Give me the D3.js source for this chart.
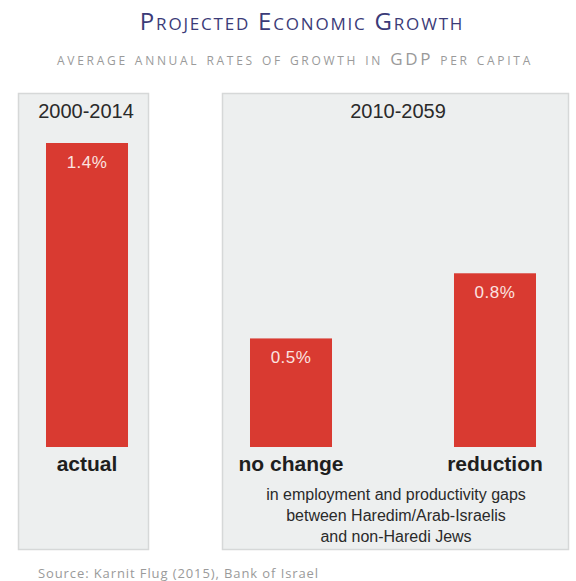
<!DOCTYPE html>
<html><head><meta charset="utf-8">
<script src="https://cdn.jsdelivr.net/npm/d3@7"></script>
<style>body{margin:0;background:#fff}svg{display:block}</style>
</head><body>
<script>
const categories = ["actual", "no change", "reduction"];
const values = [1.4, 0.5, 0.8];
const valueLabels = ["1.4%", "0.5%", "0.8%"];
const periods = ["2000-2014", "2010-2059"];
const captionLines = ["in employment and productivity gaps", "between Haredim/Arab-Israelis", "and non-Haredi Jews"];
const title = "Projected Economic Growth";
const subtitle = "average annual rates of growth in GDP per capita";
const source = "Source: Karnit Flug (2015), Bank of Israel";

const W = 576, H = 581;
const svg = d3.select("body").append("svg").attr("width", W).attr("height", H);

// panels
const panels = [{x0: 18, x1: 148, label: periods[0]}, {x0: 222, x1: 568, label: periods[1]}];
const panelTop = 93, panelBottom = 549;
svg.selectAll("rect.panel").data(panels).enter().append("rect")
  .attr("x", d => d.x0 + 0.5).attr("y", panelTop + 0.5)
  .attr("width", d => d.x1 - d.x0).attr("height", panelBottom - panelTop)
  .attr("fill", "#edefef").attr("stroke", "#d6d8d8").attr("stroke-width", 1.5);
svg.selectAll("text.phead").data(panels).enter().append("text")
  .attr("x", d => (d.x0 + d.x1) / 2 + 3).attr("y", 118)
  .attr("text-anchor", "middle").attr("font-family", "Liberation Sans, Arial, sans-serif")
  .attr("font-size", 20).attr("fill", "#2a2a2a").text(d => d.label);

const x = d3.scaleBand().domain(categories).range([46, 536]).paddingInner(0.598).paddingOuter(0);
const y = d3.scaleLinear().domain([0, 1.4]).range([447, 143]);

svg.selectAll("rect.bar").data(categories).enter().append("rect")
  .attr("x", d => x(d)).attr("width", x.bandwidth())
  .attr("y", (d, i) => y(values[i])).attr("height", (d, i) => y(0) - y(values[i]))
  .attr("fill", "#d93a31");

svg.selectAll("text.val").data(categories).enter().append("text")
  .attr("x", d => x(d) + x.bandwidth() / 2).attr("y", (d, i) => y(values[i]) + 25)
  .attr("text-anchor", "middle").attr("font-family", "Liberation Sans, Arial, sans-serif")
  .attr("font-size", 17).attr("letter-spacing", 0.5).attr("fill", "#fbe3e0").text((d, i) => valueLabels[i]);

svg.selectAll("text.cat").data(categories).enter().append("text")
  .attr("x", d => x(d) + x.bandwidth() / 2).attr("y", 471)
  .attr("text-anchor", "middle").attr("font-family", "Liberation Sans, Arial, sans-serif")
  .attr("font-weight", "bold").attr("font-size", 21).attr("fill", "#1e1e1e").text(d => d);

svg.selectAll("text.cap").data(captionLines).enter().append("text")
  .attr("x", 396).attr("y", (d, i) => 500 + i * 21)
  .attr("text-anchor", "middle").attr("font-family", "Liberation Sans, Arial, sans-serif")
  .attr("font-size", 16).attr("fill", "#2a2a2a").text(d => d);

svg.append("text").attr("x", 302).attr("y", 30).attr("text-anchor", "middle")
  .attr("font-family", "Open Sans, sans-serif").attr("font-size", 24)
  .attr("letter-spacing", 1.8)
  .style("font-variant", "small-caps").attr("fill", "#3b3b78").text(title);

svg.append("text").attr("x", 295).attr("y", 65).attr("text-anchor", "middle")
  .attr("font-family", "Open Sans, sans-serif").attr("font-size", 17)
  .attr("letter-spacing", 2.7)
  .style("font-variant", "small-caps").attr("fill", "#9a9a9a").text(subtitle);

svg.append("text").attr("x", 38).attr("y", 578)
  .attr("font-family", "Open Sans, sans-serif").attr("font-size", 13)
  .attr("letter-spacing", 0.9)
  .attr("fill", "#9a9a9a").text(source);
</script>
</body></html>
